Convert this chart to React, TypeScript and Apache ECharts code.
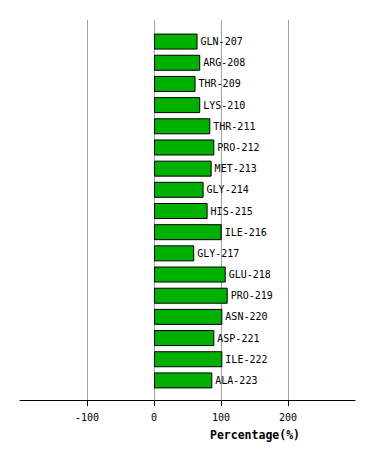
import React, { useEffect, useRef } from "react";
import * as echarts from "echarts";

const residues = [
  "GLN-207", "ARG-208", "THR-209", "LYS-210", "THR-211", "PRO-212", "MET-213",
  "GLY-214", "HIS-215", "ILE-216", "GLY-217", "GLU-218", "PRO-219", "ASN-220",
  "ASP-221", "ILE-222", "ALA-223",
];
const percentages = [65, 69, 62, 69, 84, 90, 86, 74, 80, 101, 60, 107, 110, 102, 90, 102, 87];
const tickValues = [-100, 0, 100, 200];

export default function App() {
  const ref = useRef<HTMLDivElement>(null);
  useEffect(() => {
    if (!ref.current) return;
    const chart = echarts.init(ref.current, null, { renderer: "svg" });
    const mono = "DejaVu Sans Mono";
    chart.setOption({
      animation: false,
      grid: [
        { left: 20, right: 19, top: 20, bottom: 60 },
        { left: 20, right: 19, top: 31, bottom: 69 },
      ],
      xAxis: [
        {
          gridIndex: 0,
          type: "value",
          min: -200,
          max: 300,
          interval: 100,
          axisLine: { show: true, onZero: false, lineStyle: { color: "#000", width: 1 } },
          axisTick: { show: true, length: 6, customValues: tickValues, lineStyle: { color: "#000" } },
          axisLabel: {
            customValues: tickValues,
            color: "#000",
            fontFamily: mono,
            fontSize: 10,
            margin: 12,
          },
          splitLine: { show: true, lineStyle: { color: "#a0a0a0", width: 1 } },
        },
        {
          gridIndex: 1,
          type: "value",
          min: -200,
          max: 300,
          show: false,
          splitLine: { show: false },
        },
      ],
      yAxis: [
        { gridIndex: 0, type: "value", show: false, splitLine: { show: false } },
        {
          gridIndex: 1,
          type: "category",
          data: residues,
          inverse: true,
          show: false,
        },
      ],
      series: [
        {
          type: "bar",
          xAxisIndex: 1,
          yAxisIndex: 1,
          data: percentages,
          barWidth: 16,
          itemStyle: { color: "#00b000", borderColor: "#000", borderWidth: 1 },
          label: {
            show: true,
            position: "right",
            distance: 3,
            color: "#000",
            fontFamily: mono,
            fontSize: 10,
            formatter: (p: any) => residues[p.dataIndex],
          },
        },
      ],
      graphic: [
        {
          type: "text",
          x: 255,
          y: 435,
          style: {
            text: "Percentage(%)",
            font: `bold 11.5px "${mono}"`,
            fill: "#000",
            align: "center",
            verticalAlign: "middle",
          },
        },
      ],
    });
    return () => chart.dispose();
  }, []);
  return (
    <div
      ref={ref}
      style={{ position: "absolute", left: 0, top: 0, width: 374, height: 460, background: "#fff" }}
    />
  );
}
